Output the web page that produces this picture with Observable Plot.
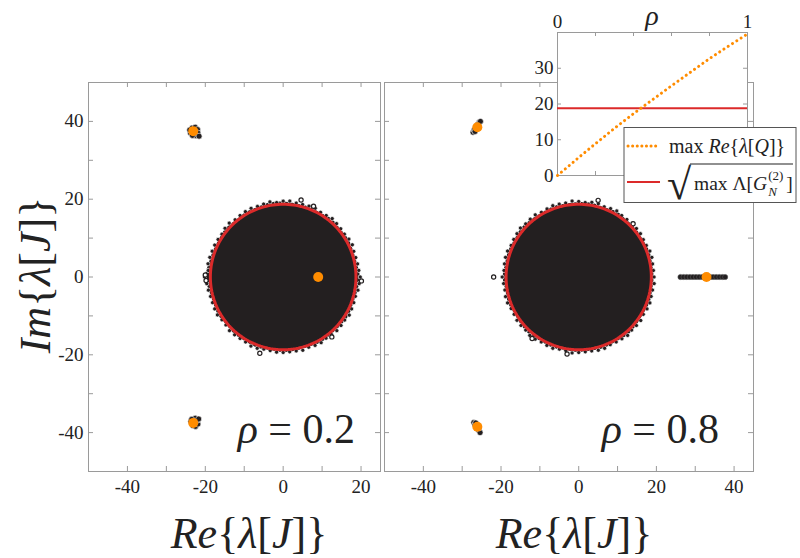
<!DOCTYPE html>
<html><head><meta charset="utf-8">
<script src="https://cdn.jsdelivr.net/npm/d3@7"></script>
<script src="https://cdn.jsdelivr.net/npm/@observablehq/plot@0.6"></script>
<style>
body{margin:0;background:white;}
#wrap{position:relative;width:800px;height:558px;overflow:hidden;font-family:"Liberation Serif",serif;background:white;}
#wrap svg{position:absolute;left:0;top:0;}
</style></head><body><div id="wrap"></div>
<script>
// ---------- data ----------
const circleRadius = 18.7;            // red circle = sqrt(max Λ[G])
const rimAngles = [0,10,20,30,40,50,60,70,80,90,100,110,120,130,140,150,160,170,180,190,200,210,220,230,240,250,260,270,280,290,300,310,320,330,340,350];
const rimAngles2 = [5,15,25,35,45,55,65,75,85,95,105,115,125,135,145,155,165,175,185,195,205,215,225,235,245,255,265,275,285,295,305,315,325,335,345,355];
const rimRadiiLeft  = [19.8,19.4,19.3,19.5,19.3,19.6,19.2,19.4,19.3,19.5,19.6,19.3,19.4,19.2,19.5,19.3,19.4,19.6,20.2,19.5,19.3,19.5,19.2,19.4,19.3,19.5,19.2,19.4,19.3,19.2,19.5,19.3,19.4,19.6,19.3,19.5];
const rimRadiiLeft2 = [19.5,19.3,19.6,19.2,19.4,19.3,19.5,19.3,19.6,19.2,19.4,19.5,19.3,19.6,19.2,19.4,19.5,19.3,19.7,19.3,19.4,19.2,19.5,19.3,19.6,19.2,19.4,19.3,19.5,19.4,19.2,19.5,19.3,19.4,19.2,19.6];
const rimRadiiRight = [19.4,19.3,19.5,19.2,19.4,19.3,19.6,19.2,19.5,19.4,19.3,19.5,19.2,19.4,19.6,19.3,19.5,19.4,19.7,19.3,19.5,19.2,19.4,19.6,19.3,19.5,19.2,19.4,19.3,19.5,19.3,19.6,19.4,19.2,19.5,19.3];
const rimRadiiRight2= [19.3,19.5,19.2,19.4,19.6,19.3,19.4,19.5,19.2,19.6,19.4,19.3,19.5,19.3,19.4,19.2,19.5,19.3,19.4,19.5,19.2,19.4,19.3,19.5,19.4,19.2,19.6,19.3,19.5,19.2,19.4,19.3,19.5,19.4,19.3,19.5];
const strayLeft  = [[4.6,19.8],[-20.0,0.5],[-19.8,-0.9],[20.1,-1.0],[-6.0,-19.6],[7.8,18.2],[12.5,-15.4]];
const strayRight = [[-21.9,0.0],[5.0,19.7],[-12.0,-15.8],[14.0,13.7],[-3.0,-19.8]];
const clusterLeft = [[-23.8,37.0],[-23.4,38.3],[-22.6,38.5],[-22.0,37.9],[-21.9,37.0],[-22.4,36.3],[-23.3,36.4],[-22.9,37.6],[-21.6,36.2],[-24.0,37.8],
                     [-23.7,-37.1],[-23.2,-38.2],[-22.5,-38.4],[-21.9,-37.8],[-22.0,-36.8],[-22.6,-36.3],[-23.5,-36.6],[-22.9,-37.4],[-21.7,-36.5]];
const clusterRight = [[-27.2,37.2],[-26.9,37.8],[-26.5,38.5],[-26.0,39.2],[-25.6,39.8],[-26.7,37.4],[-25.9,38.6],[-25.3,40.0],
                      [-27.0,-37.4],[-26.7,-38.0],[-26.3,-38.6],[-25.8,-39.3],[-25.4,-40.0],[-26.5,-37.5],[-25.7,-38.8]];
const realAxisRight = [26.2,27.0,27.8,28.6,29.4,30.2,31.0,31.8,33.8,34.6,35.4,36.2,37.0,37.7];
const predictedLeft  = [[9.0,0],[-23.1,37.5],[-23.1,-37.5]];
const predictedRight = [[32.9,0],[-26.1,38.5],[-26.1,-38.5]];
// inset
const rhoValues   = [0,0.1,0.2,0.3,0.4,0.5,0.6,0.7,0.8,0.9,1.0];
const maxReQ      = [0,4.5,8.9,13.2,17.3,21.2,25.1,28.9,32.7,36.2,39.6];
const sqrtMaxG    = 18.8;
// ticks
const yTicks = [-40,-30,-20,-10,0,10,20,30,40];
const yTickLabels = [-40,-20,0,20,40];
const xTicksLeft = [-40,-30,-20,-10,0,10,20];
const xLabelsLeft = [-40,-20,0,20];
const xTicksRight = [-40,-30,-20,-10,0,10,20,30,40];
const xLabelsRight = [-40,-20,0,20,40];
const insetXTicks = [0.2,0.4,0.6,0.8];
const insetYTicks = [10,20,30];
const insetYLabels = [0,10,20,30];

// ---------- styling ----------
const W = 800, H = 558;
const DARK = "#231f20", ORANGE = "#ff8c00", RED = "#dc2a2a", FRAME = "#9a9a9a";
const wrap = document.getElementById("wrap");
const fontStyle = {background:"transparent", fontFamily:"'Liberation Serif', serif", fontSize:"19px", color:"#222", overflow:"visible"};

function toXY(angles, radii){ return angles.map((a,i)=>({x: radii[i]*Math.cos(a*Math.PI/180), y: radii[i]*Math.sin(a*Math.PI/180)})); }
function circlePts(R){ const out=[]; for(let a=0;a<=360;a+=2) out.push({x:R*Math.cos(a*Math.PI/180), y:R*Math.sin(a*Math.PI/180)}); return out; }

function panel({left, right, xDomain, xTicks, xLabels, yLabels, rim, rim2, stray, cluster, extraLine, predicted}){
  const pw = right-left, ph = 471-82;
  const rimPts = toXY(rimAngles, rim).concat(toXY(rimAngles2, rim2));
  const rimInner = toXY(rimAngles, rim.map(r=>r-0.5));
  const marks = [
    Plot.frame({stroke: FRAME}),
    Plot.tickX(xTicks, {x:d=>d, stroke:FRAME, insetTop: ph-5}),
    Plot.tickX(xTicks, {x:d=>d, stroke:FRAME, insetBottom: ph-5}),
    Plot.tickY(yTicks, {y:d=>d, stroke:FRAME, insetRight: pw-5}),
    Plot.tickY(yTicks, {y:d=>d, stroke:FRAME, insetLeft: pw-5}),
    Plot.axisX({ticks: xLabels, tickSize:0, tickPadding:8, tickFormat:d=>String(d), label:null}),
    Plot.line(rimInner, {x:"x", y:"y", fill: DARK, stroke: DARK, strokeWidth: 3, curve:"catmull-rom-closed"}),
    Plot.dot(rimPts, {x:"x", y:"y", r:2.1, fill:DARK, stroke:"white", strokeWidth:0.7}),
    Plot.dot(stray, {x:d=>d[0], y:d=>d[1], r:2.1, fill:"white", stroke:DARK, strokeWidth:1.2}),
    Plot.line(circlePts(circleRadius), {x:"x", y:"y", stroke: RED, strokeWidth: 3}),
    Plot.dot(cluster, {x:d=>d[0], y:d=>d[1], r:3, fill:DARK, stroke:"white", strokeWidth:0.6}),
  ];
  if (extraLine) marks.push(Plot.dot(extraLine, {x:d=>d, y:0, r:2.6, fill:DARK, stroke:"#555", strokeWidth:0.6}));
  marks.push(Plot.dot(predicted, {x:d=>d[0], y:d=>d[1], r:5, fill:ORANGE}));
  if (yLabels) marks.push(Plot.axisY({ticks: yLabels, tickSize:0, tickPadding:5, tickFormat:d=>String(d), label:null}));
  return Plot.plot({
    width:W, height:H, marginLeft:left, marginRight:W-right, marginTop:82, marginBottom:H-471,
    x:{domain:xDomain}, y:{domain:[-50,50], axis: yLabels ? undefined : null}, style:fontStyle, marks
  });
}

wrap.append(panel({left:88, right:380, xDomain:[-50,25], xTicks:xTicksLeft, xLabels:xLabelsLeft, yLabels:yTickLabels,
  rim:rimRadiiLeft, rim2:rimRadiiLeft2, stray:strayLeft, cluster:clusterLeft, predicted:predictedLeft}));
wrap.append(panel({left:384, right:753, xDomain:[-50,45], xTicks:xTicksRight, xLabels:xLabelsRight, yLabels:null,
  rim:rimRadiiRight, rim2:rimRadiiRight2, stray:strayRight, cluster:clusterRight, extraLine:realAxisRight, predicted:predictedRight}));

// inset
const iL=557, iR=747, iT=32, iB=175, iw=iR-iL, ih=iB-iT;
const insetData = rhoValues.map((r,i)=>({rho:r, v:maxReQ[i]}));
wrap.append(Plot.plot({
  width:W, height:H, marginLeft:iL, marginRight:W-iR, marginTop:iT, marginBottom:H-iB,
  x:{domain:[0,1]}, y:{domain:[0,40]}, style:fontStyle,
  marks:[
    Plot.frame({fill:"white", stroke:FRAME}),
    Plot.tickX(insetXTicks, {x:d=>d, stroke:FRAME, insetTop: ih-4}),
    Plot.tickX(insetXTicks, {x:d=>d, stroke:FRAME, insetBottom: ih-4}),
    Plot.tickY(insetYTicks, {y:d=>d, stroke:FRAME, insetRight: iw-4}),
    Plot.tickY(insetYTicks, {y:d=>d, stroke:FRAME, insetLeft: iw-4}),
    Plot.axisX({anchor:"top", ticks:[0,1], tickSize:0, tickPadding:5, tickFormat:d=>String(d), label:null}),
    Plot.axisY({ticks:insetYLabels, tickSize:0, tickPadding:4, tickFormat:d=>String(d), label:null}),
    Plot.ruleY([sqrtMaxG], {stroke:RED, strokeWidth:2}),
    Plot.line(insetData, {x:"rho", y:"v", stroke:ORANGE, strokeWidth:3, strokeDasharray:"0.1 5", strokeLinecap:"round"})
  ]
}));

// overlay text & legend
const svg = d3.select(wrap).append("svg").attr("width",W).attr("height",H)
  .style("font-family","'Liberation Serif', serif").style("fill","#222").style("overflow","visible");
function mathText(g, x, y, size, parts, anchor){
  const t = g.append("text").attr("x",x).attr("y",y).attr("font-size",size).attr("text-anchor",anchor||"start");
  parts.forEach(([s,it])=>t.append("tspan").attr("font-style", it?"italic":"normal").text(s));
  return t;
}
// axis titles
mathText(svg, 249, 548, 44, [["Re",1],["{",0],["λ",1],["[",0],["J",1],["]}",0]], "middle");
mathText(svg, 574, 548, 44, [["Re",1],["{",0],["λ",1],["[",0],["J",1],["]}",0]], "middle");
const gy = svg.append("g").attr("transform","translate(50,275) rotate(-90)");
mathText(gy, 0, 0, 44, [["Im",1],["{",0],["λ",1],["[",0],["J",1],["]}",0]], "middle");
// panel labels
mathText(svg, 355, 443, 42, [["ρ",1],[" = 0.2",0]], "end");
mathText(svg, 719, 443, 42, [["ρ",1],[" = 0.8",0]], "end");
// inset rho label
mathText(svg, 652, 25, 28, [["ρ",1]], "middle");
// legend
const lg = svg.append("g");
lg.append("rect").attr("x",624).attr("y",127.5).attr("width",172).attr("height",75).attr("fill","white").attr("stroke","#555").attr("stroke-width",1);
lg.append("line").attr("x1",628).attr("x2",660).attr("y1",146).attr("y2",146).attr("stroke",ORANGE).attr("stroke-width",3).attr("stroke-dasharray","0.1 4.5").attr("stroke-linecap","round");
lg.append("line").attr("x1",627).attr("x2",660).attr("y1",182).attr("y2",182).attr("stroke",RED).attr("stroke-width",2);
mathText(lg, 669, 153, 20, [["max ",0],["Re",1],["{",0],["λ",1],["[",0],["Q",1],["]}",0]]);
// sqrt entry
lg.append("text").attr("x",667).attr("y",199).attr("font-size",44).text("√");
lg.append("line").attr("x1",690).attr("x2",793).attr("y1",164).attr("y2",164).attr("stroke","#222").attr("stroke-width",1.2);
const t2 = mathText(lg, 694, 190, 19.5, [["max Λ[",0],["G",1]]);
const w2 = t2.node().getComputedTextLength();
lg.append("text").attr("x",694+w2+1).attr("y",180).attr("font-size",13).text("(2)");
lg.append("text").attr("x",694+w2+1).attr("y",196).attr("font-size",13).attr("font-style","italic").text("N");
lg.append("text").attr("x",694+w2+19).attr("y",190).attr("font-size",19.5).text("]");
</script></body></html>
